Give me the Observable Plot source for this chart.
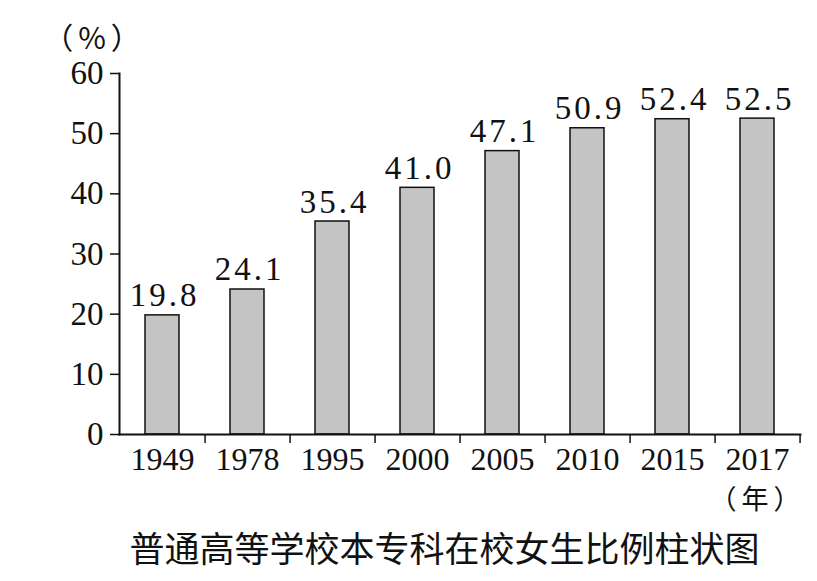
<!DOCTYPE html>
<html><head><meta charset="utf-8">
<script src="https://cdn.jsdelivr.net/npm/d3@7"></script>
<script src="https://cdn.jsdelivr.net/npm/@observablehq/plot@0.6"></script>
<style>
body{margin:0;background:#fff;width:817px;}
#title{font-family:"Noto Sans CJK SC",sans-serif;font-size:35px;color:#111;line-height:40px;padding-left:72px;text-align:center;margin-top:2px;}
g.vlabel text{letter-spacing:3px;}
g.unit text{letter-spacing:5px;}
</style></head><body><div id="chart"></div><div id="title">普通高等学校本专科在校女生比例柱状图</div>
<script>
const years = ["1949","1978","1995","2000","2005","2010","2015","2017"];
const shares = [19.8,24.1,35.4,41.0,47.1,50.9,52.4,52.5];
const yTicks = [0,10,20,30,40,50,60];
const yLabel = "（%）";
const xLabel = "（年）";
const data = years.map((y,i)=>({year:y, share:shares[i]}));
const W=817,H=525,ML=119,MR=17,MT=73,MB=91;
const step=(W-ML-MR)/years.length;
const cjk = '"Noto Sans CJK SC",sans-serif';
const plot = Plot.plot({
  width:W,height:H,marginLeft:ML,marginRight:MR,marginTop:MT,marginBottom:MB,
  style:{fontFamily:'"Liberation Serif","Noto Sans CJK SC",serif',color:"#111",background:"#fff"},
  x:{domain:years,paddingInner:0.6,paddingOuter:0.3,label:null},
  y:{domain:[0,60],label:null},
  marks:[
    Plot.barY(data,{x:"year",y:"share",fill:"#c4c4c4",stroke:"#111",strokeWidth:1.5}),
    Plot.text(data,{x:"year",y:"share",text:d=>d.share.toFixed(1),lineAnchor:"bottom",dy:-9,dx:2,fontSize:33,fill:"#111",className:"vlabel"}),
    Plot.frame({anchor:"left",stroke:"#111",strokeWidth:2}),
    Plot.frame({anchor:"bottom",stroke:"#111",strokeWidth:2}),
    Plot.axisY({ticks:yTicks,tickSize:9,tickPadding:7,fontSize:33,strokeWidth:1.5,label:null}),
    Plot.axisX({tickSize:0,tickPadding:13,fontSize:32,label:null}),
    Plot.axisX({tickSize:9,text:null,dx:step/2,strokeWidth:1.5,label:null}),
    Plot.text([yLabel],{frameAnchor:"top-left",textAnchor:"middle",lineAnchor:"middle",dx:-25,dy:-34,fontSize:30,fontFamily:cjk,fill:"#111",className:"unit"}),
    Plot.text([xLabel],{frameAnchor:"bottom-right",textAnchor:"end",lineAnchor:"middle",dx:5,dy:66,fontSize:27,fontFamily:cjk,fill:"#111",className:"unit"})
  ]
});
document.getElementById("chart").appendChild(plot);
</script></body></html>
